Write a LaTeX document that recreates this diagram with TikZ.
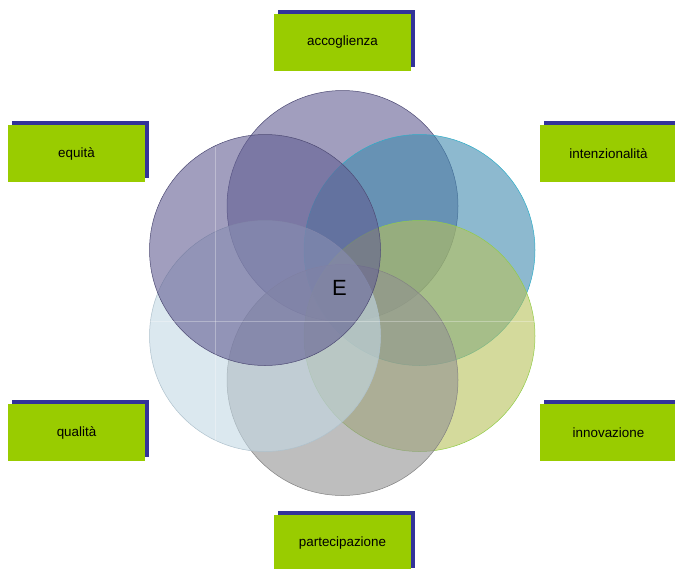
\documentclass[tikz,border=0pt]{standalone}
\usepackage{fontspec}
\setmainfont{Liberation Sans}
\usetikzlibrary{shadows}

\definecolor{boxgreen}{HTML}{99CC00}
\definecolor{shadowblue}{HTML}{333399}
\definecolor{ringpurple}{HTML}{625E92}
\definecolor{ringblue}{HTML}{418AAF}
\definecolor{ringolive}{HTML}{B7C15A}
\definecolor{ringgrey}{HTML}{929292}
\definecolor{ringsky}{HTML}{C3D8E4}

\tikzset{
  label box/.style={rectangle, fill=boxgreen, minimum width=137pt, minimum height=57pt,
    inner sep=0pt, font=\fontsize{13.4}{16}\selectfont,
    general shadow={fill=shadowblue, shadow xshift=4pt, shadow yshift=4pt}},
  ring/.style={circle, minimum size=231pt, inner sep=0pt, fill opacity=0.6, line width=0.5pt}
}

\begin{document}
\begin{tikzpicture}[x=1pt,y=-1pt]
   \useasboundingbox (0,0) rectangle (675,568);
   \clip (0,0) rectangle (675,568);
   \node[ring, fill=ringpurple, draw=ringpurple!80!black] (top) at (342.5,206) {};
   \node[ring, fill=ringblue, draw=ringblue!70!cyan] (upright) at (419.5,250) {};
   \node[ring, fill=ringolive, draw=ringolive!80!green] (lowright) at (419.5,336) {};
   \node[ring, fill=ringgrey, draw=ringgrey!90!black] (bottom) at (342.5,380) {};
   \node[ring, fill=ringsky, draw=ringsky!90!black] (lowleft) at (265,336) {};
   \node[ring, fill=ringpurple, draw=ringpurple!80!black] (upleft) at (265,250) {};
   \draw[white, opacity=0.3, line width=0.5pt] (215,147) -- (215,447);
   \draw[white, opacity=0.3, line width=0.5pt] (149,321) -- (536,321);
   \node[font=\fontsize{22}{26}\selectfont] (core) at (339.5,288) {E};
   \node[label box] (accoglienza) at (342.5,42.5) {accoglienza};
   \node[label box] (equita) at (76.5,153.5) {equità};
   \node[label box] (intenzionalita) at (608.5,153.5) {intenzionalità};
   \node[label box] (qualita) at (76.5,432.5) {qualità};
   \node[label box] (innovazione) at (608.5,432.5) {innovazione};
   \node[label box] (partecipazione) at (342.5,543.5) {partecipazione};
\end{tikzpicture}
\end{document}
